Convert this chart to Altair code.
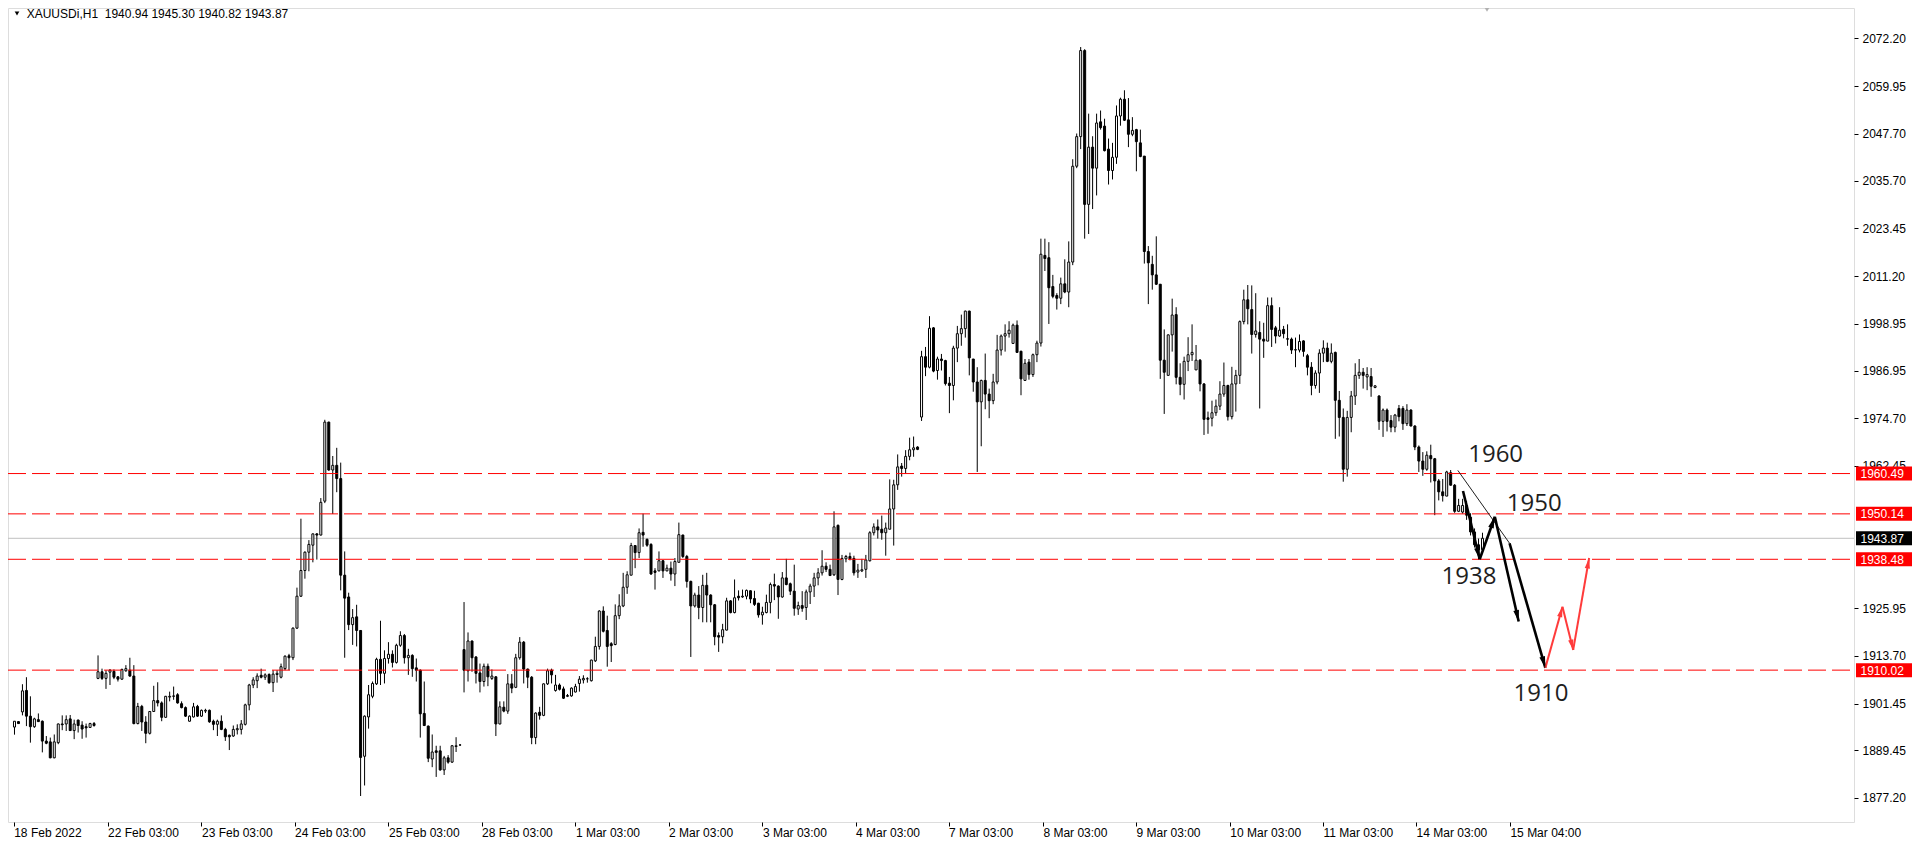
import math
import altair as alt
import pandas as pd

# ---------------- data ----------------
OPEN = [
    1895.4, 1896.8, 1899.3, 1904.8, 1898.2, 1895.5, 1897.3, 1896.9, 1891.8, 1891.6,
    1887.5, 1891.4, 1896.2, 1896.2, 1897.5, 1894.5, 1897.2, 1895.9, 1895.5, 1895.3,
    1896.3, 1907.9, 1909.6, 1907.9, 1909.5, 1909.7, 1908.3, 1907.7, 1909.85, 1910.0,
    1908.5, 1896.3, 1900.7, 1896.7, 1893.8, 1899.4, 1902.2, 1901.6, 1897.9, 1903.1,
    1903.3, 1903.7, 1901.4, 1900.4, 1896.9, 1898.0, 1900.7, 1898.2, 1899.5, 1899.7,
    1896.9, 1896.1, 1896.9, 1894.8, 1893.3, 1893.1, 1894.7, 1894.8, 1896.1, 1901.1,
    1906.2, 1907.3, 1908.7, 1908.2, 1908.9, 1906.8, 1908.9, 1908.2, 1910.4, 1913.7,
    1913.2, 1920.8, 1929.0, 1935.6, 1940.3, 1942.1, 1945.0, 1944.7, 1953.4, 1973.7,
    1961.4, 1962.6, 1959.2, 1934.4, 1928.8, 1921.7, 1923.7, 1920.2, 1887.9, 1898.0,
    1903.3, 1906.5, 1912.8, 1909.2, 1913.0, 1914.1, 1912.0, 1916.4, 1918.9, 1913.2,
    1913.8, 1910.6, 1910.0, 1898.9, 1895.65, 1887.2, 1889.3, 1889.3, 1884.4, 1887.5,
    1886.4, 1890.4, 1890.8, 1915.3, 1909.85, 1917.5, 1913.4, 1909.3, 1907.1, 1911.0,
    1907.9, 1908.3, 1896.2, 1900.5, 1899.5, 1906.5, 1905.6, 1913.2, 1917.2, 1910.3,
    1908.2, 1892.7, 1899.2, 1898.4, 1906.5, 1910.0, 1904.8, 1906.2, 1905.2, 1903.3,
    1903.4, 1904.4, 1906.6, 1907.5, 1907.8, 1907.3, 1912.4, 1916.1, 1925.2, 1920.2,
    1916.8, 1916.6, 1924.0, 1926.5, 1931.3, 1934.4, 1942.0, 1940.2, 1945.4, 1943.6,
    1942.3, 1935.5, 1935.5, 1938.1, 1935.5, 1936.2, 1934.7, 1937.7, 1944.7, 1939.2,
    1932.8, 1926.5, 1929.3, 1926.1, 1931.8, 1929.3, 1926.8, 1918.9, 1918.6, 1920.3,
    1927.8, 1924.8, 1929.0, 1928.8, 1929.0, 1930.4, 1928.4, 1927.2, 1924.2, 1924.8,
    1927.4, 1932.0, 1931.6, 1928.8, 1933.7, 1932.2, 1930.3, 1925.7, 1926.6, 1926.1,
    1930.1, 1931.6, 1933.7, 1935.0, 1936.7, 1935.9, 1934.5, 1947.2, 1933.3, 1938.6,
    1939.2, 1938.7, 1935.2, 1935.5, 1935.9, 1938.1, 1945.3, 1946.8, 1946.2, 1945.3,
    1946.2, 1951.4, 1957.6, 1962.4, 1961.8, 1964.9, 1966.6, 1967.3, 1975.0, 1990.5,
    1987.8, 1997.9, 1986.95, 1989.9, 1989.5, 1983.7, 1983.1, 1992.7, 1996.4, 1997.7,
    2002.2, 1989.9, 1984.0, 1978.9, 1984.4, 1980.9, 1979.2, 1984.0, 1992.2, 1995.8,
    1996.4, 1993.9, 1998.6, 1991.9, 1984.4, 1989.1, 1985.9, 1991.0, 1994.0, 2016.5,
    2015.9, 2008.5, 2006.2, 2005.5, 2009.2, 2007.1, 2014.8, 2039.4, 2047.0, 2069.1,
    2029.6, 2044.3, 2038.9, 2050.8, 2049.7, 2043.8, 2038.3, 2041.7, 2052.3, 2056.6,
    2051.3, 2047.6, 2048.8, 2045.4, 2042.0, 2017.5, 2014.2, 2011.5, 2009.1, 1989.6,
    1985.7, 1996.1, 2001.3, 1985.2, 1983.4, 1989.3, 1991.0, 1987.1, 1989.6, 1983.5,
    1974.8, 1974.7, 1976.1, 1977.8, 1980.9, 1983.1, 1975.1, 1983.5, 1985.7, 1999.5,
    2005.1, 2002.6, 1996.2, 1996.7, 1995.0, 1994.5, 2003.6, 1997.9, 1995.8, 1997.5,
    1995.1, 1995.0, 1992.2, 1992.2, 1994.55, 1990.75, 1987.8, 1983.1, 1986.3, 1991.4,
    1992.7, 1989.3, 1991.6, 1979.3, 1974.9, 1961.6, 1974.9, 1980.4, 1985.7, 1986.5,
    1985.3, 1985.4, 1982.6, 1980.4, 1973.9, 1976.8, 1974.1, 1972.4, 1977.2, 1977.2,
    1973.3, 1976.8, 1972.7, 1967.3, 1963.7, 1961.6, 1965.1, 1964.3, 1958.6, 1955.8,
    1954.7, 1960.7, 1957.5, 1950.8, 1950.6, 1952.3, 1949.3, 1945.5, 1942.2, 1940.94,
]
HIGH = [
    1896.9, 1896.9, 1906.4, 1908.2, 1903.3, 1897.8, 1898.9, 1897.1, 1893.1, 1892.7,
    1893.5, 1896.3, 1898.4, 1898.4, 1898.5, 1897.3, 1897.3, 1896.9, 1896.3, 1896.5,
    1896.7, 1913.8, 1910.4, 1910.0, 1910.3, 1910.2, 1908.5, 1910.4, 1911.3, 1913.2,
    1911.3, 1901.6, 1901.1, 1898.2, 1899.5, 1906.0, 1906.9, 1902.0, 1903.4, 1904.5,
    1905.8, 1904.1, 1902.0, 1900.7, 1898.4, 1901.6, 1901.1, 1899.9, 1900.1, 1899.9,
    1897.3, 1897.3, 1898.4, 1895.2, 1893.5, 1895.8, 1896.1, 1897.2, 1901.4, 1906.5,
    1908.2, 1909.2, 1910.4, 1909.2, 1909.2, 1910.0, 1910.0, 1911.7, 1913.8, 1914.2,
    1921.0, 1931.2, 1948.9, 1940.5, 1943.4, 1945.1, 1945.2, 1954.2, 1974.3, 1973.8,
    1965.0, 1967.1, 1963.3, 1940.5, 1929.9, 1925.7, 1926.8, 1920.3, 1898.4, 1906.2,
    1907.1, 1913.2, 1922.7, 1915.1, 1917.2, 1915.1, 1916.8, 1920.0, 1919.3, 1915.5,
    1914.1, 1913.0, 1910.2, 1907.1, 1895.8, 1893.5, 1890.6, 1890.6, 1888.0, 1888.2,
    1890.8, 1892.8, 1891.0, 1927.5, 1919.7, 1917.6, 1913.6, 1911.7, 1911.7, 1911.7,
    1910.2, 1908.5, 1902.0, 1902.0, 1909.0, 1909.0, 1914.2, 1918.5, 1917.5, 1910.4,
    1908.5, 1899.2, 1900.6, 1906.6, 1910.4, 1910.4, 1908.8, 1906.6, 1905.8, 1903.9,
    1905.6, 1906.5, 1908.5, 1908.7, 1908.2, 1912.7, 1918.6, 1925.4, 1926.4, 1924.0,
    1917.2, 1926.9, 1929.5, 1935.0, 1935.4, 1942.7, 1942.1, 1946.4, 1950.2, 1943.8,
    1942.6, 1936.2, 1940.5, 1938.3, 1937.1, 1937.9, 1938.8, 1947.9, 1944.8, 1939.6,
    1933.0, 1929.9, 1931.6, 1934.5, 1935.0, 1929.5, 1927.0, 1919.7, 1921.9, 1928.6,
    1928.0, 1933.3, 1930.5, 1930.7, 1930.7, 1930.5, 1930.4, 1927.3, 1926.3, 1929.4,
    1932.5, 1934.8, 1931.8, 1935.2, 1938.6, 1932.5, 1937.1, 1927.6, 1930.3, 1930.7,
    1932.2, 1935.0, 1936.2, 1940.8, 1937.7, 1937.1, 1950.8, 1947.4, 1939.6, 1939.6,
    1940.2, 1939.4, 1937.3, 1938.6, 1939.6, 1945.7, 1947.7, 1948.7, 1949.7, 1947.9,
    1959.0, 1958.9, 1965.4, 1963.2, 1966.5, 1969.7, 1970.0, 1967.5, 1992.0, 1993.0,
    2000.9, 1998.1, 1990.5, 1991.2, 1989.7, 1985.3, 1993.3, 1998.4, 2001.3, 2002.3,
    2002.3, 1989.9, 1987.8, 1984.6, 1991.3, 1982.3, 1986.1, 1996.1, 1996.2, 1998.8,
    1999.6, 1999.0, 1999.8, 1992.0, 1989.9, 1989.9, 1991.3, 1994.6, 2020.8, 2020.8,
    2019.9, 2011.5, 2006.8, 2010.8, 2015.5, 2020.1, 2041.2, 2047.8, 2070.0, 2069.45,
    2052.9, 2047.1, 2052.9, 2053.7, 2051.6, 2046.5, 2045.4, 2055.0, 2057.0, 2058.9,
    2056.9, 2052.0, 2049.0, 2048.8, 2042.0, 2018.9, 2016.4, 2021.4, 2009.1, 1997.5,
    1996.2, 2005.4, 2003.2, 1988.8, 1990.5, 1995.5, 1998.8, 1993.5, 1989.9, 1983.7,
    1976.4, 1979.2, 1979.5, 1984.2, 1989.0, 1983.3, 1987.9, 1987.1, 1999.8, 2007.7,
    2008.9, 2008.8, 2006.8, 1999.6, 1999.2, 2005.7, 2005.7, 1998.4, 2003.2, 1998.4,
    1998.8, 1995.4, 1995.4, 1996.2, 1994.7, 1991.2, 1989.1, 1987.0, 1992.4, 1994.7,
    1994.1, 1993.9, 1991.8, 1981.7, 1977.2, 1976.6, 1981.7, 1988.8, 1989.9, 1987.6,
    1987.8, 1987.6, 1983.2, 1980.6, 1977.2, 1977.2, 1975.5, 1975.8, 1978.1, 1977.8,
    1978.3, 1977.0, 1972.9, 1967.7, 1966.0, 1966.2, 1967.9, 1964.5, 1959.1, 1959.1,
    1961.2, 1961.4, 1957.8, 1954.0, 1954.0, 1953.5, 1950.3, 1946.4, 1943.8, 1945.30,
]
LOW = [
    1893.45, 1896.2, 1898.4, 1895.65, 1891.4, 1895.2, 1896.7, 1888.9, 1891.0, 1887.4,
    1887.4, 1891.0, 1894.6, 1894.4, 1894.4, 1892.3, 1894.0, 1892.4, 1892.7, 1895.2,
    1895.5, 1907.7, 1907.5, 1905.2, 1906.2, 1907.7, 1907.1, 1907.5, 1909.6, 1908.3,
    1896.1, 1896.1, 1894.4, 1891.25, 1893.5, 1899.4, 1900.7, 1896.9, 1897.8, 1902.0,
    1902.4, 1901.4, 1900.2, 1898.0, 1896.8, 1897.85, 1898.0, 1898.0, 1899.0, 1896.5,
    1894.6, 1893.1, 1894.6, 1891.85, 1889.5, 1892.9, 1893.5, 1893.5, 1895.8, 1899.7,
    1905.4, 1905.4, 1907.9, 1907.5, 1906.5, 1904.4, 1906.8, 1907.9, 1910.0, 1910.0,
    1912.6, 1920.6, 1928.8, 1933.5, 1935.4, 1937.7, 1938.4, 1944.6, 1952.9, 1961.2,
    1950.1, 1955.7, 1930.5, 1913.2, 1920.3, 1916.5, 1916.1, 1877.7, 1880.4, 1895.0,
    1902.8, 1906.2, 1906.2, 1906.6, 1911.7, 1910.7, 1911.7, 1916.0, 1911.7, 1908.8,
    1908.3, 1907.1, 1892.7, 1895.65, 1886.4, 1885.1, 1882.6, 1884.2, 1883.1, 1886.0,
    1886.2, 1889.0, 1890.6, 1904.3, 1907.1, 1909.6, 1906.6, 1904.3, 1905.8, 1905.9,
    1907.5, 1893.1, 1896.1, 1899.2, 1898.8, 1904.1, 1905.4, 1912.7, 1906.6, 1905.4,
    1891.0, 1891.0, 1897.3, 1898.2, 1906.2, 1906.6, 1904.5, 1904.8, 1902.6, 1903.1,
    1903.2, 1904.3, 1904.5, 1906.6, 1906.8, 1907.1, 1912.1, 1915.3, 1919.7, 1910.9,
    1912.1, 1916.4, 1923.1, 1926.2, 1929.6, 1934.4, 1936.2, 1938.8, 1941.7, 1941.7,
    1934.5, 1930.7, 1935.4, 1933.7, 1935.4, 1933.0, 1931.6, 1937.7, 1938.8, 1931.2,
    1913.4, 1926.1, 1923.1, 1922.3, 1922.3, 1922.3, 1916.4, 1914.7, 1916.9, 1920.2,
    1924.6, 1924.6, 1927.9, 1928.6, 1928.2, 1927.2, 1926.5, 1923.5, 1921.7, 1924.6,
    1924.6, 1928.0, 1923.2, 1928.6, 1931.8, 1929.3, 1924.0, 1924.2, 1925.0, 1922.9,
    1927.0, 1928.8, 1931.8, 1934.3, 1935.2, 1934.3, 1934.2, 1929.3, 1933.1, 1937.7,
    1938.2, 1934.3, 1933.7, 1935.2, 1933.7, 1937.9, 1944.6, 1943.8, 1943.5, 1939.4,
    1946.2, 1942.0, 1956.3, 1959.7, 1960.5, 1963.9, 1964.8, 1966.5, 1974.0, 1985.5,
    1987.5, 1986.5, 1984.6, 1986.95, 1983.1, 1976.0, 1979.3, 1989.1, 1993.3, 1995.4,
    1985.7, 1981.5, 1960.9, 1967.5, 1977.0, 1974.7, 1978.3, 1983.4, 1990.8, 1991.8,
    1995.4, 1993.9, 1991.6, 1980.6, 1984.4, 1984.6, 1985.3, 1989.1, 1993.1, 2012.5,
    1998.9, 2005.5, 2002.6, 2004.0, 2006.8, 2003.2, 2014.0, 2038.9, 2043.8, 2020.8,
    2022.0, 2028.4, 2031.9, 2048.8, 2043.2, 2034.7, 2036.0, 2040.0, 2049.8, 2051.0,
    2044.3, 2047.1, 2038.1, 2041.7, 2014.4, 2004.0, 2007.7, 2008.9, 1984.8, 1975.8,
    1985.7, 1991.8, 1983.4, 1980.6, 1979.5, 1986.8, 1989.4, 1987.1, 1981.6, 1970.4,
    1970.7, 1972.6, 1975.3, 1976.8, 1980.2, 1974.1, 1974.4, 1976.4, 1983.5, 1998.8,
    1998.8, 1991.3, 1995.4, 1977.2, 1990.2, 1994.5, 1993.0, 1993.9, 1995.6, 1995.2,
    1993.3, 1991.2, 1987.8, 1991.6, 1990.5, 1985.7, 1980.6, 1982.3, 1981.2, 1989.1,
    1989.1, 1988.8, 1969.4, 1970.0, 1958.4, 1959.7, 1971.1, 1978.1, 1984.8, 1982.3,
    1981.9, 1980.2, 1982.4, 1971.7, 1969.9, 1971.3, 1971.1, 1971.1, 1973.9, 1971.7,
    1972.7, 1972.6, 1966.5, 1960.9, 1959.9, 1961.2, 1958.2, 1949.8, 1953.6, 1953.3,
    1954.7, 1957.4, 1950.4, 1950.6, 1950.2, 1948.6, 1944.6, 1941.5, 1938.4, 1940.82,
]
CLOSE = [
    1896.9, 1896.3, 1904.7, 1898.2, 1895.5, 1897.5, 1896.8, 1891.8, 1891.25, 1887.5,
    1891.6, 1896.2, 1896.0, 1897.3, 1894.5, 1896.2, 1895.8, 1894.9, 1895.2, 1896.3,
    1895.8, 1909.6, 1907.9, 1909.2, 1910.0, 1908.2, 1907.7, 1910.2, 1910.4, 1908.5,
    1896.3, 1900.7, 1896.7, 1893.8, 1899.4, 1902.2, 1901.6, 1897.9, 1903.3, 1903.3,
    1903.4, 1901.6, 1900.4, 1898.2, 1898.2, 1900.6, 1898.2, 1899.7, 1899.7, 1896.75,
    1896.1, 1896.9, 1894.8, 1892.9, 1892.9, 1894.8, 1895.0, 1896.2, 1901.1, 1906.2,
    1907.5, 1908.5, 1908.2, 1908.8, 1906.8, 1909.0, 1909.2, 1910.9, 1913.6, 1913.2,
    1920.8, 1929.0, 1935.6, 1940.3, 1942.3, 1945.0, 1944.7, 1953.1, 1973.7, 1961.4,
    1962.6, 1959.2, 1934.4, 1928.5, 1921.7, 1923.5, 1920.2, 1887.6, 1898.2, 1903.7,
    1906.6, 1912.8, 1909.2, 1913.0, 1914.1, 1912.0, 1916.4, 1918.9, 1913.2, 1913.8,
    1910.4, 1910.0, 1898.8, 1895.8, 1887.4, 1889.0, 1888.9, 1884.4, 1887.5, 1886.4,
    1890.6, 1890.6, 1890.8, 1910.0, 1917.5, 1913.2, 1909.2, 1907.1, 1911.0, 1908.3,
    1908.5, 1896.2, 1900.6, 1899.5, 1906.5, 1905.4, 1913.2, 1917.2, 1910.3, 1908.2,
    1892.7, 1899.0, 1898.4, 1906.5, 1909.85, 1908.8, 1906.2, 1905.1, 1902.8, 1903.5,
    1905.4, 1905.8, 1907.7, 1907.9, 1907.8, 1912.6, 1916.1, 1925.2, 1920.0, 1916.1,
    1916.3, 1924.0, 1926.5, 1931.3, 1934.5, 1942.0, 1940.2, 1945.3, 1944.7, 1942.1,
    1934.7, 1935.1, 1938.1, 1935.5, 1936.2, 1934.7, 1937.9, 1944.8, 1939.2, 1932.8,
    1926.5, 1929.3, 1926.1, 1931.8, 1929.3, 1926.8, 1918.6, 1918.5, 1920.4, 1927.8,
    1924.8, 1928.6, 1928.6, 1929.0, 1930.5, 1928.3, 1926.9, 1924.2, 1924.9, 1927.4,
    1932.0, 1931.6, 1928.8, 1933.7, 1932.0, 1930.3, 1925.9, 1926.6, 1925.9, 1930.1,
    1931.6, 1933.7, 1935.0, 1936.7, 1935.9, 1934.3, 1946.8, 1933.3, 1938.7, 1939.2,
    1938.6, 1935.0, 1935.7, 1935.8, 1938.3, 1945.3, 1946.8, 1946.0, 1945.3, 1946.5,
    1951.4, 1957.6, 1962.2, 1961.8, 1964.9, 1966.6, 1967.1, 1966.7, 1990.5, 1987.8,
    1997.8, 1986.8, 1989.9, 1989.5, 1983.6, 1983.1, 1992.7, 1996.4, 1997.7, 2002.2,
    1990.2, 1984.0, 1978.9, 1984.4, 1980.9, 1979.2, 1984.0, 1992.2, 1995.8, 1996.4,
    1997.3, 1998.6, 1991.6, 1984.8, 1988.8, 1985.9, 1991.0, 1994.0, 2016.8, 2015.7,
    2008.2, 2006.0, 2005.5, 2009.2, 2007.1, 2014.8, 2039.4, 2047.0, 2069.1, 2029.6,
    2044.3, 2038.9, 2050.5, 2049.3, 2043.4, 2038.3, 2041.7, 2052.3, 2056.6, 2051.2,
    2047.6, 2048.6, 2045.7, 2041.9, 2017.5, 2014.6, 2011.5, 2009.1, 1989.6, 1986.5,
    1996.1, 2001.2, 1985.2, 1983.4, 1989.3, 1991.0, 1991.6, 1989.6, 1983.5, 1974.4,
    1974.4, 1976.1, 1977.8, 1980.9, 1983.1, 1975.1, 1983.5, 1985.7, 1999.5, 2005.1,
    2002.8, 1996.2, 1997.1, 1995.0, 1994.5, 2003.6, 1997.5, 1995.8, 1997.3, 1996.4,
    1995.0, 1992.2, 1992.3, 1994.4, 1991.85, 1987.8, 1983.1, 1986.3, 1991.4, 1992.7,
    1989.3, 1991.4, 1979.3, 1974.9, 1961.6, 1974.9, 1980.4, 1985.7, 1986.5, 1985.7,
    1985.9, 1982.9, 1983.0, 1973.9, 1976.8, 1973.9, 1972.4, 1975.5, 1975.1, 1973.3,
    1976.8, 1972.7, 1967.3, 1963.7, 1961.6, 1965.2, 1964.3, 1958.6, 1955.8, 1954.8,
    1960.9, 1957.5, 1950.8, 1952.3, 1952.3, 1949.8, 1945.5, 1942.2, 1940.9, 1943.87,
]

LEVELS = [1960.49, 1950.14, 1938.48, 1910.02]
LEVEL_LABELS = ["1960.49", "1950.14", "1938.48", "1910.02"]
CURRENT = [1943.87]
CURRENT_LABEL = ["1943.87"]

Y_TICKS = [2072.20, 2059.95, 2047.70, 2035.70, 2023.45, 2011.20, 1998.95, 1986.95,
           1974.70, 1962.45, 1925.95, 1913.70, 1901.45, 1889.45, 1877.20]
X_TICK_POS = [-0.2, 23.4, 47.0, 70.4, 94.0, 117.4, 141.0, 164.4, 188.0, 211.4,
              234.8, 258.5, 281.9, 305.5, 328.9, 352.3, 375.9]
X_TICK_LABELS = ["18 Feb 2022", "22 Feb 03:00", "23 Feb 03:00", "24 Feb 03:00", "25 Feb 03:00",
                 "28 Feb 03:00", "1 Mar 03:00", "2 Mar 03:00", "3 Mar 03:00", "4 Mar 03:00",
                 "7 Mar 03:00", "8 Mar 03:00", "9 Mar 03:00", "10 Mar 03:00", "11 Mar 03:00",
                 "14 Mar 03:00", "15 Mar 04:00"]

TITLE = "XAUUSDi,H1\u00a0 1940.94 1945.30 1940.82 1943.87"

ANNOT_TEXT = ["1960", "1950", "1938", "1910"]
ANNOT_IDX = [372.3, 382.0, 365.6, 383.7]
ANNOT_PRICE = [1965.9, 1953.5, 1934.8, 1904.7]

# analyst drawings (bar index, price)
ZIGZAG_IDX = [364.1, 368.3, 372.1, 378.1]
ZIGZAG_PRICE = [1956.0, 1938.5, 1949.4, 1922.5]
TREND_THIN_IDX = [362.8, 375.8]
TREND_THIN_PRICE = [1961.3, 1942.6]
TREND_THICK_IDX = [375.8, 384.8]
TREND_THICK_PRICE = [1942.6, 1910.6]
RED_IDX = [384.8, 389.1, 391.8, 395.8]
RED_PRICE = [1910.6, 1926.3, 1915.2, 1938.8]

# ---------------- chart ----------------
N = len(OPEN)
assert len(HIGH) == N and len(LOW) == N and len(CLOSE) == N, (len(OPEN), len(HIGH), len(LOW), len(CLOSE))

W, H = 1846, 814
X_DOMAIN = [-0.375, 461.125]
Y_DOMAIN = [1872.31, 2078.74]
PX_X = W / (X_DOMAIN[1] - X_DOMAIN[0])
PX_Y = H / (Y_DOMAIN[1] - Y_DOMAIN[0])

xs = alt.Scale(domain=X_DOMAIN, nice=False, zero=False)
ys = alt.Scale(domain=Y_DOMAIN, nice=False, zero=False)

label_expr = ("[" + ",".join("'" + t + "'" for t in X_TICK_LABELS) + "][indexof(["
              + ",".join(repr(v) for v in X_TICK_POS) + "], datum.value)]")

x_axis = alt.Axis(values=X_TICK_POS, labelExpr=label_expr, title=None, orient="bottom",
                  grid=False, domain=False, ticks=True, tickSize=4, tickColor="black",
                  labelAlign="left", labelBaseline="top", labelPadding=1,
                  labelOverlap=False, labelBound=False, labelFlush=False,
                  labelFont="Liberation Sans", labelFontSize=12, labelColor="black")
y_axis = alt.Axis(values=Y_TICKS, format=".2f", title=None, orient="right",
                  grid=False, domain=False, ticks=True, tickSize=4, tickColor="black",
                  labelAlign="left", labelBaseline="middle", labelPadding=4,
                  labelOverlap=False, labelBound=False, labelFlush=False,
                  labelFont="Liberation Sans", labelFontSize=12, labelColor="black")


def X(field="idx"):
    return alt.X(field + ":Q", scale=xs, axis=x_axis)


def Y(field="price"):
    return alt.Y(field + ":Q", scale=ys, axis=y_axis)


cdf = pd.DataFrame({"idx": list(range(N)), "open": OPEN, "high": HIGH, "low": LOW, "close": CLOSE})

wicks = alt.Chart(cdf).mark_rule(color="black", strokeWidth=1).encode(
    x=X(), y=Y("low"), y2="high:Q")
bodies = alt.Chart(cdf).mark_bar(size=2, stroke="black", strokeWidth=1).encode(
    x=X(), y=Y("open"), y2="close:Q",
    fill=alt.condition("datum.close >= datum.open", alt.value("white"), alt.value("black")))

ldf = pd.DataFrame({"price": LEVELS, "label": LEVEL_LABELS})
cur = pd.DataFrame({"price": CURRENT, "label": CURRENT_LABEL})

cur_line = alt.Chart(cur).mark_rule(color="#c0c0c0", strokeWidth=1).encode(
    y=Y(), x=alt.value(0), x2=alt.value(W))
level_lines = alt.Chart(ldf).mark_rule(color="#ff0000", strokeWidth=1, strokeDash=[18, 6]).encode(
    y=Y(), x=alt.value(0), x2=alt.value(W))

level_boxes = alt.Chart(ldf).mark_bar(orient="horizontal", size=14, color="#ff0000").encode(
    y=Y(), x=alt.value(W + 2), x2=alt.value(W + 58))
level_text = alt.Chart(ldf).mark_text(align="left", baseline="middle", color="white",
                                      font="Liberation Sans", fontSize=12, dy=0.5).encode(
    y=Y(), x=alt.value(W + 6.5), text="label:N")
cur_box = alt.Chart(cur).mark_bar(orient="horizontal", size=14, color="black").encode(
    y=Y(), x=alt.value(W + 2), x2=alt.value(W + 58))
cur_text = alt.Chart(cur).mark_text(align="left", baseline="middle", color="white",
                                    font="Liberation Sans", fontSize=12, dy=0.5).encode(
    y=Y(), x=alt.value(W + 6.5), text="label:N")


def seg_df(idxs, prices, name):
    rows = []
    for k in range(len(idxs) - 1):
        rows.append({"seg": name + str(k), "o": 0, "idx": idxs[k], "price": prices[k]})
        rows.append({"seg": name + str(k), "o": 1, "idx": idxs[k + 1], "price": prices[k + 1]})
    return pd.DataFrame(rows)


def heads_df(idxs, prices):
    rows = []
    for k in range(len(idxs) - 1):
        dx = (idxs[k + 1] - idxs[k]) * PX_X
        dy = -(prices[k + 1] - prices[k]) * PX_Y
        ang = math.degrees(math.atan2(dx, -dy)) % 360
        rows.append({"idx": idxs[k + 1], "price": prices[k + 1], "angle": ang})
    return pd.DataFrame(rows)


ARROW = "M0,0L0.55,2.2L-0.55,2.2Z"


def path_layer(idxs, prices, name, color, width):
    return alt.Chart(seg_df(idxs, prices, name)).mark_line(
        color=color, strokeWidth=width, strokeCap="butt").encode(
        x=X(), y=Y(), detail="seg:N", order="o:Q")


def head_layer(idxs, prices, color, size):
    return alt.Chart(heads_df(idxs, prices)).mark_point(
        shape=ARROW, filled=True, size=size, color=color, opacity=1, strokeWidth=0).encode(
        x=X(), y=Y(), angle=alt.Angle("angle:Q", scale=None))


thin = path_layer(TREND_THIN_IDX, TREND_THIN_PRICE, "t", "#202020", 1)
thick = path_layer(TREND_THICK_IDX, TREND_THICK_PRICE, "k", "black", 2.6)
thick_h = head_layer(TREND_THICK_IDX, TREND_THICK_PRICE, "black", 110)
zig = path_layer(ZIGZAG_IDX, ZIGZAG_PRICE, "z", "black", 2.6)
zig_h = head_layer(ZIGZAG_IDX, ZIGZAG_PRICE, "black", 110)
red = path_layer(RED_IDX, RED_PRICE, "r", "#ff3b3b", 2)
red_h = head_layer(RED_IDX, RED_PRICE, "#ff3b3b", 90)

adf = pd.DataFrame({"idx": ANNOT_IDX, "price": ANNOT_PRICE, "text": ANNOT_TEXT})
annots = alt.Chart(adf).mark_text(font="Open Sans", fontSize=24, color="#1e1e1e",
                                  align="center", baseline="middle", dy=3).encode(
    x=X(), y=Y(), text="text:N")

tdf = pd.DataFrame({"t": [TITLE]})
title_text = alt.Chart(tdf).mark_text(align="left", baseline="middle", font="Liberation Sans",
                                      fontSize=12, color="black").encode(
    x=alt.value(18.7), y=alt.value(6), text="t:N")
title_tri = alt.Chart(tdf).mark_point(shape="triangle-down", filled=True, size=22,
                                      color="black", opacity=1).encode(
    x=alt.value(9), y=alt.value(5.5))
shift_tri = alt.Chart(tdf).mark_point(shape="triangle-down", filled=True, size=30,
                                      color="#b0b0b0", opacity=1).encode(
    x=alt.value(1479), y=alt.value(1.5))

chart = alt.layer(
    cur_line, wicks, bodies, level_lines,
    level_boxes, level_text, cur_box, cur_text,
    thin, thick, zig, red, thick_h, zig_h, red_h,
    annots, title_tri, title_text, shift_tri,
).properties(
    width=W, height=H,
    autosize=alt.AutoSizeParams(type="none"),
    padding={"left": 0, "top": 0, "right": 58, "bottom": 16},
).configure_view(
    stroke="black", strokeWidth=1
).configure(background="white")

chart.save("out.html", embed_options={"renderer": "svg", "actions": False})
